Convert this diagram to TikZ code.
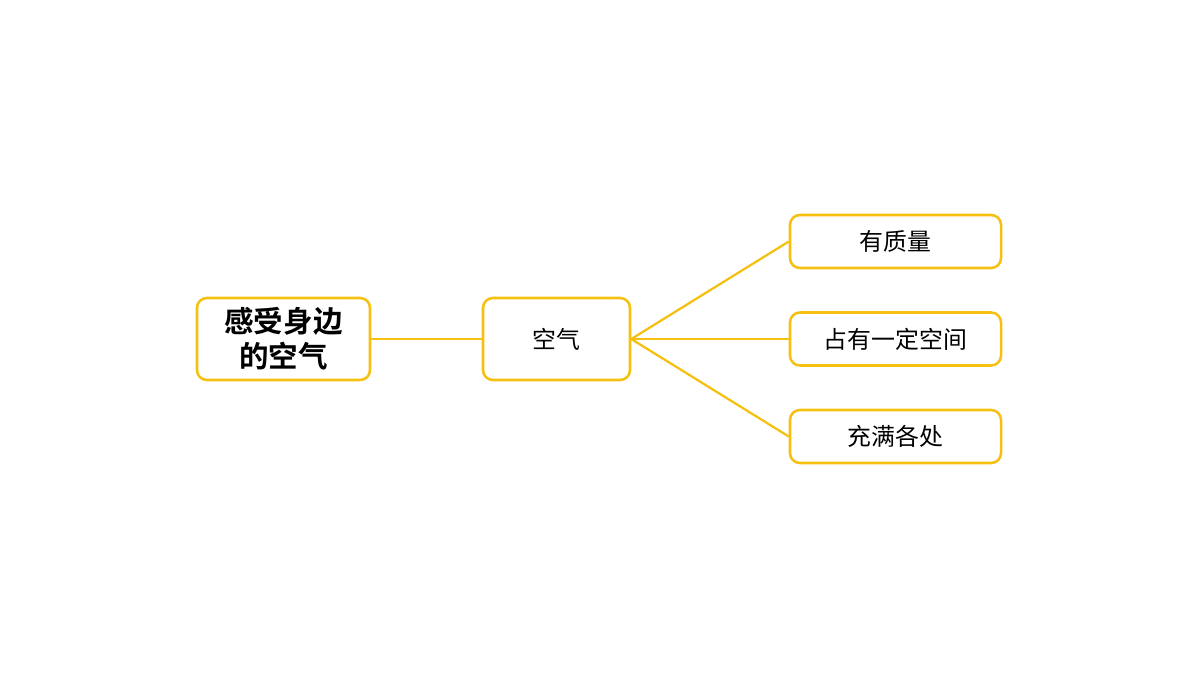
\documentclass[tikz,border=0pt]{standalone}
\usepackage{fontspec}
\newfontfamily\cjk{Noto Sans CJK SC}
\newfontfamily\cjkb{Noto Sans CJK SC Bold}
\definecolor{gold}{HTML}{F5C010}
\begin{document}
\begin{tikzpicture}[x=0.025cm,y=-0.025cm,
  box/.style={draw=gold,line width=1.8pt,rounded corners=7pt,fill=white,inner sep=0pt,align=center},
  lnk/.style={draw=gold,line width=1.6pt}]
\useasboundingbox (0,0) rectangle (1200,675);
\node[box,minimum width=173*0.025cm,minimum height=82*0.025cm,font=\cjkb\fontsize{21}{25}\selectfont] (root) at (283.5,339) {感受身边\\的空气};
\node[box,minimum width=147*0.025cm,minimum height=82*0.025cm,font=\cjk\fontsize{17}{20}\selectfont] (air) at (556.5,339) {空气};
\node[box,minimum width=211*0.025cm,minimum height=53*0.025cm,font=\cjk\fontsize{17}{20}\selectfont] (a) at (895.5,241.5) {有质量};
\node[box,minimum width=211*0.025cm,minimum height=53*0.025cm,font=\cjk\fontsize{17}{20}\selectfont] (b) at (895.5,339) {占有一定空间};
\node[box,minimum width=211*0.025cm,minimum height=53*0.025cm,font=\cjk\fontsize{17}{20}\selectfont] (c) at (895.5,436.5) {充满各处};
\draw[lnk] (root.east) -- (air.west);
\draw[lnk] (air.east) -- (a.west);
\draw[lnk] (air.east) -- (b.west);
\draw[lnk] (air.east) -- (c.west);
\end{tikzpicture}
\end{document}
